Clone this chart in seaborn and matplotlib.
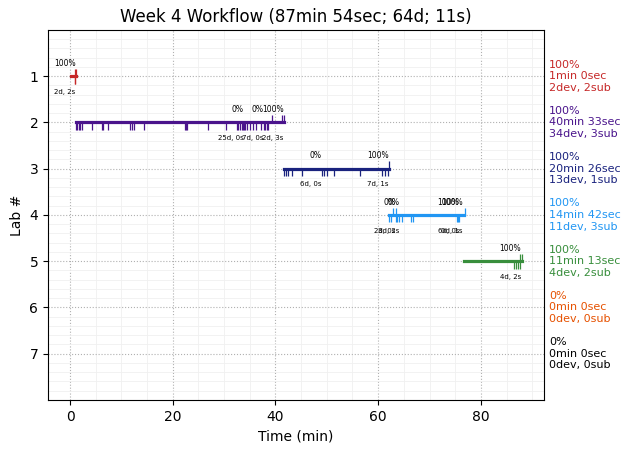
import matplotlib
matplotlib.use("Agg")
import matplotlib.pyplot as plt
from matplotlib.ticker import AutoMinorLocator, MultipleLocator
import seaborn as sns
import pandas as pd

# ---- data ----
labs = [1, 2, 3, 4, 5, 6, 7]
lab_colors = ["#c62828", "#4a148c", "#1a237e", "#2196f3", "#388e3c", "#e65100", "#000000"]
bar_start = [0.1, 1.1, 41.65, 62.05, 76.75]
bar_end = [1.1, 41.65, 62.05, 76.75, 87.95]

dev_times = {
    1: [1.0, 1.05],
    2: [1.17, 1.36, 1.8, 2.0, 2.3, 4.34, 6.2, 6.4, 7.3, 11.6, 12.0, 12.4, 14.3,
        22.4, 22.6, 22.8, 26.9, 30.4, 32.6, 32.8, 33.1, 33.4, 33.7, 33.9, 34.1,
        34.4, 35.0, 35.7, 36.3, 37.1, 37.8, 38.0, 38.3, 38.6],
    3: [41.7, 42.0, 42.5, 43.2, 45.2, 49.0, 49.4, 50.0, 51.4, 56.5, 60.8, 61.4, 61.9],
    4: [62.15, 62.5, 63.5, 63.7, 64.1, 64.6, 66.4, 66.8, 75.4, 75.6, 75.7],
    5: [86.5, 86.9, 87.3, 87.6],
}
sub_times = {
    1: [1.05, 1.1],
    2: [39.4, 41.3, 41.6],
    3: [62.1],
    4: [62.9, 63.5, 76.9],
    5: [87.7, 87.95],
}

# segment labels: (lab, end time, percent, devs, subs)
seg_lab = [1, 2, 2, 2, 3, 3, 4, 4, 4, 4, 5]
seg_end = [1.1, 33.8, 37.7, 41.6, 49.0, 62.0, 63.4, 64.2, 75.8, 76.5, 87.8]
seg_pct = [100, 0, 0, 100, 0, 100, 0, 0, 100, 100, 100]
seg_dev = [2, 25, 7, 2, 6, 7, 2, 3, 6, 0, 4]
seg_sub = [2, 0, 0, 3, 0, 1, 0, 2, 0, 1, 2]

sum_pct = [100, 100, 100, 100, 100, 0, 0]
sum_min = [1, 40, 20, 14, 11, 0, 0]
sum_sec = [0, 33, 26, 42, 13, 0, 0]
sum_dev = [2, 34, 13, 11, 4, 0, 0]
sum_sub = [2, 3, 1, 3, 2, 0, 0]

title = "Week 4 Workflow (87min 54sec; 64d; 11s)"

# ---- plot ----
fig = plt.figure(figsize=(6.3, 4.53), dpi=100)
ax = fig.add_axes([0.0762, 0.117, 0.7873, 0.8168])

rows = []
for i, (s, e) in enumerate(zip(bar_start, bar_end)):
    rows.append({"lab": labs[i], "time": s})
    rows.append({"lab": labs[i], "time": e})
df = pd.DataFrame(rows)
pal = {labs[i]: lab_colors[i] for i in range(len(labs))}
sns.lineplot(data=df, x="time", y="lab", hue="lab", units="lab", estimator=None,
             palette=pal, legend=False, lw=2.3, sort=False, ax=ax)

tick_len = 0.16
for lab, times in dev_times.items():
    ax.vlines(times, lab, lab + tick_len, color=pal[lab], lw=0.9)
for lab, times in sub_times.items():
    ax.vlines(times, lab - tick_len, lab, color=pal[lab], lw=0.9)

for lab, e, p, d, s in zip(seg_lab, seg_end, seg_pct, seg_dev, seg_sub):
    ax.text(e, lab - 0.28, f"{p}%", ha="right", va="center", fontsize=5.5, color="black")
    ax.text(e, lab + 0.34, f"{d}d, {s}s", ha="right", va="center", fontsize=5, color="black")

trans = ax.get_yaxis_transform()
for i, lab in enumerate(labs):
    txt = f"{sum_pct[i]}%\n{sum_min[i]}min {sum_sec[i]}sec\n{sum_dev[i]}dev, {sum_sub[i]}sub"
    ax.text(1.01, lab, txt, transform=trans, ha="left", va="center", fontsize=8,
            color=lab_colors[i], linespacing=1.2, clip_on=False)

ax.set_xlim(-4.3, 92.3)
ax.set_ylim(8, 0)
ax.set_yticks(labs)
ax.xaxis.set_major_locator(MultipleLocator(20))
ax.xaxis.set_minor_locator(AutoMinorLocator())
ax.yaxis.set_minor_locator(AutoMinorLocator())
ax.tick_params(which="minor", length=0)
ax.grid(which="major", ls=":", color="#b0b0b0", lw=0.8)
ax.grid(which="minor", ls="-", color="#f0f0f0", lw=0.6)
ax.set_axisbelow(True)
ax.set_xlabel("Time (min)")
ax.set_ylabel("Lab #")
ax.set_title(title, fontsize=12)

fig.savefig("out.png", dpi=100)
